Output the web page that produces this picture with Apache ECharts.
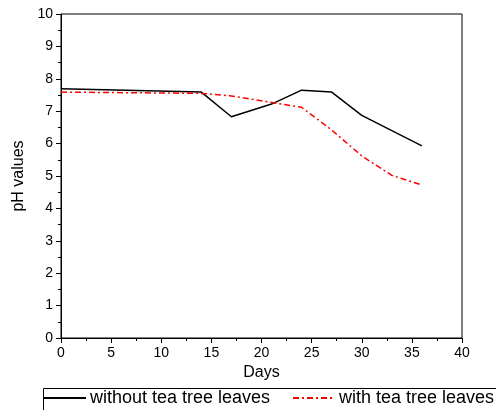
<!DOCTYPE html>
<html>
<head>
<meta charset="utf-8">
<script src="https://cdn.jsdelivr.net/npm/echarts@6/dist/echarts.min.js"></script>
<style>
  html, body { margin: 0; padding: 0; background: #fff; }
  #chart { width: 496px; height: 410px; }
</style>
</head>
<body>
<div id="chart"></div>
<script>
// days sampled for each series
const daysWithout = [0, 14, 17, 21, 24, 27, 30, 36];
const phWithout = [7.69, 7.59, 6.83, 7.22, 7.65, 7.59, 6.87, 5.93];

const daysWith = [0, 14, 17, 21, 24, 27, 30, 33, 36];
const phWith = [7.59, 7.55, 7.47, 7.27, 7.12, 6.42, 5.62, 5.02, 4.72];

const seriesNames = ['without tea tree leaves', 'with tea tree leaves'];

const font = "'Liberation Sans', Arial, sans-serif";

const chart = echarts.init(document.getElementById('chart'));

const pairs = (xs, ys) => xs.map((x, i) => [x, ys[i]]);

const axisCommon = {
  axisLine: { show: true, lineStyle: { color: '#000', width: 1 } },
  axisTick: { show: true, inside: false, length: 5, lineStyle: { color: '#000' } },
  minorTick: { show: true, splitNumber: 2, length: 3, lineStyle: { color: '#000' } },
  splitLine: { show: false },
  axisLabel: { color: '#000', fontFamily: font, fontSize: 14, margin: 8 },
  nameTextStyle: { color: '#000', fontFamily: font, fontSize: 16 },
  nameLocation: 'middle',
};

// one legend per item so they sit on a single row like the original
const legendCommon = {
  orient: 'horizontal',
  top: 389,
  itemWidth: 42,
  itemHeight: 14,
  padding: 0,
  itemStyle: { opacity: 0 },
  textStyle: { color: '#000', fontFamily: font, fontSize: 18, padding: [0, 0, 0, -1] },
};

chart.setOption({
  animation: false,
  backgroundColor: '#fff',
  grid: {
    left: 61,
    top: 14,
    right: 34,
    bottom: 72,
    show: true,
    borderColor: '#000',
    borderWidth: 1,
  },
  legend: [
    { ...legendCommon, data: [seriesNames[0]], left: 43 },
    { ...legendCommon, data: [seriesNames[1]], left: 292 },
  ],
  // legend frame, running off the right and bottom edges
  graphic: [
    {
      type: 'rect',
      left: 41,
      top: 386,
      shape: { width: 480, height: 40 },
      style: { fill: 'none', stroke: '#000', lineWidth: 1 },
      silent: true,
    },
  ],
  xAxis: {
    ...axisCommon,
    type: 'value',
    min: 0,
    max: 40,
    interval: 5,
    name: 'Days',
    nameGap: 26,
  },
  yAxis: {
    ...axisCommon,
    type: 'value',
    min: 0,
    max: 10,
    interval: 1,
    name: 'pH values',
    nameGap: 32,
  },
  series: [
    {
      name: seriesNames[0],
      type: 'line',
      symbol: 'none',
      data: pairs(daysWithout, phWithout),
      lineStyle: { color: '#000', width: 1.5 },
      itemStyle: { color: '#000' },
    },
    {
      name: seriesNames[1],
      type: 'line',
      symbol: 'none',
      data: pairs(daysWith, phWith),
      lineStyle: { color: '#ff0000', width: 1.5, type: [6, 3, 2, 3] },
      itemStyle: { color: '#ff0000' },
    },
  ],
});
</script>
</body>
</html>
